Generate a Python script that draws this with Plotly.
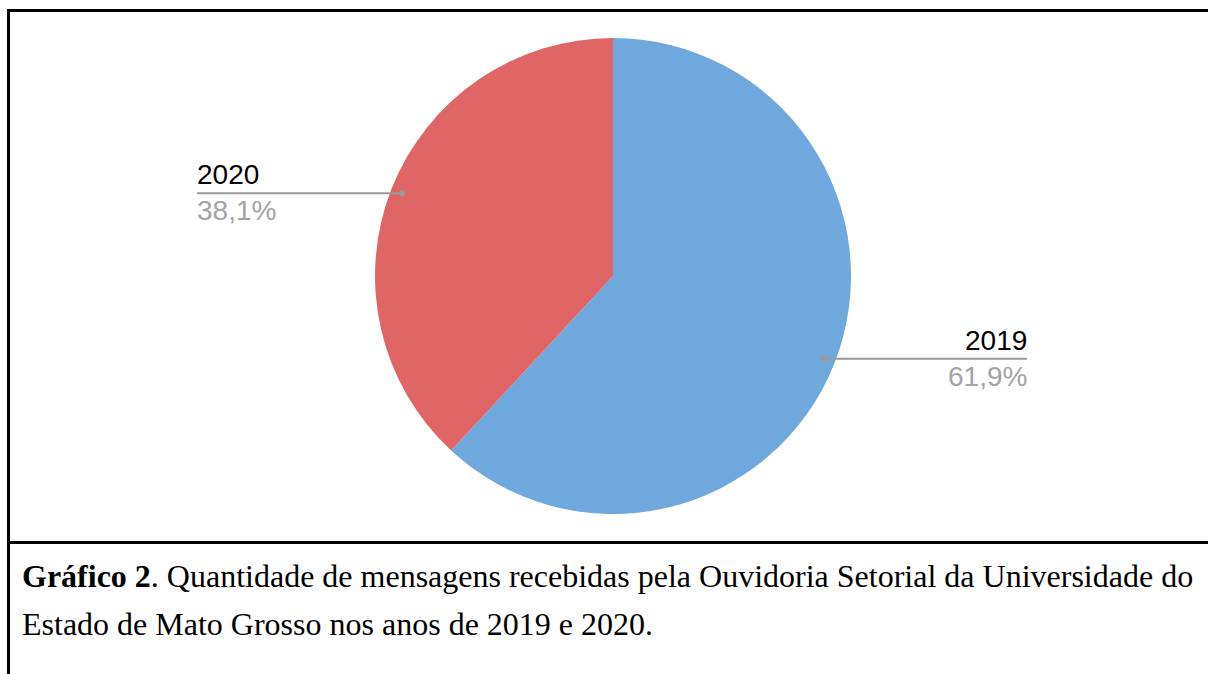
import math
import plotly.graph_objects as go

# Share of messages received per year
years = ["2019", "2020"]
shares = [61.9, 38.1]
pct_labels = ["61,9%", "38,1%"]
colors = ["#6fa8dc", "#e06666"]

W, H = 1208, 674
# pie placement in pixels
cx, cy, R = 613, 276, 238

def px(x):
    return x / W

def py(y):
    return 1 - y / H

fig = go.Figure()
fig.add_trace(go.Pie(
    labels=years,
    values=shares,
    sort=False,
    direction="clockwise",
    rotation=0,
    marker=dict(colors=colors, line=dict(width=0)),
    textinfo="none",
    hoverinfo="label+percent",
    showlegend=False,
    domain=dict(x=[px(cx - R), px(cx + R)], y=[py(cy + R), py(cy - R)]),
))

shapes = []
annotations = []

# leader lines with labels, anchored at each slice's mid-angle
total = sum(shares)
start = 0.0
label_x = {"2019": 1027, "2020": 197}
lbl_font = "Liberation Sans, Arial"
for yr, val, pct in zip(years, shares, pct_labels):
    mid = (start + val / 2) / total * 2 * math.pi
    start += val
    r = 0.952 * R
    dx = cx + r * math.sin(mid)
    dy = cy - r * math.cos(mid)
    lx = label_x[yr]
    shapes.append(dict(type="line", xref="paper", yref="paper",
                       x0=px(dx), y0=py(dy), x1=px(lx), y1=py(dy),
                       line=dict(color="#9a9a9a", width=2)))
    shapes.append(dict(type="circle", xref="paper", yref="paper",
                       x0=px(dx - 3), y0=py(dy - 3), x1=px(dx + 3), y1=py(dy + 3),
                       fillcolor="#9a9a9a", line=dict(width=0)))
    right = lx > cx
    tx = lx + 2 if right else lx - 2
    anchor = "right" if right else "left"
    annotations.append(dict(x=px(tx), y=py(dy - 1), xref="paper", yref="paper",
                            text=yr, showarrow=False, xanchor=anchor, yanchor="bottom",
                            font=dict(family=lbl_font, size=28, color="#000000")))
    annotations.append(dict(x=px(tx), y=py(dy), xref="paper", yref="paper",
                            text=pct, showarrow=False, xanchor=anchor, yanchor="top",
                            font=dict(family=lbl_font, size=28, color="#a3a3a3")))

# frame lines
shapes.append(dict(type="line", xref="paper", yref="paper",
                   x0=px(7), y0=py(10.5), x1=px(W), y1=py(10.5),
                   line=dict(color="#000000", width=3)))
shapes.append(dict(type="line", xref="paper", yref="paper",
                   x0=px(8.5), y0=py(9), x1=px(8.5), y1=py(H),
                   line=dict(color="#000000", width=3)))
shapes.append(dict(type="line", xref="paper", yref="paper",
                   x0=px(7), y0=py(542.5), x1=px(W), y1=py(542.5),
                   line=dict(color="#000000", width=3)))

# caption
cap_font = dict(family="Liberation Serif, Times New Roman", size=32, color="#000000")
annotations.append(dict(x=px(20), y=py(596), xref="paper", yref="paper",
                        text="<b>Gráfico 2</b>. Quantidade de mensagens recebidas pela Ouvidoria Setorial da Universidade do",
                        showarrow=False, xanchor="left", yanchor="bottom", font=cap_font))
annotations.append(dict(x=px(20), y=py(644), xref="paper", yref="paper",
                        text="Estado de Mato Grosso nos anos de 2019 e 2020.",
                        showarrow=False, xanchor="left", yanchor="bottom", font=cap_font))

fig.update_layout(
    width=W, height=H,
    margin=dict(l=0, r=0, t=0, b=0),
    paper_bgcolor="white", plot_bgcolor="white",
    shapes=shapes, annotations=annotations,
)
fig.write_html("out.html")
